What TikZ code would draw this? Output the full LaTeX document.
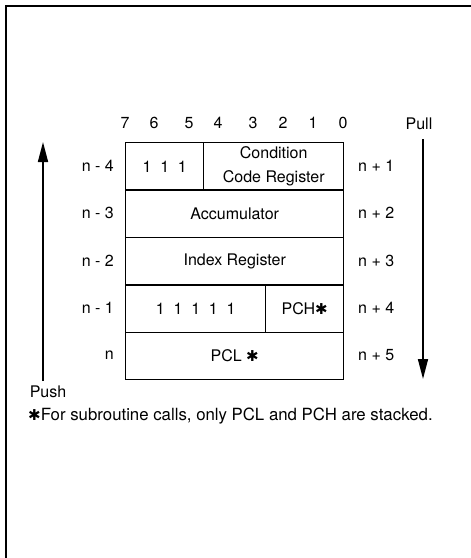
\documentclass[tikz,border=0pt]{standalone}
\usepackage{fontspec}
\setmainfont{TeX Gyre Heros}
\newfontfamily\symfont{DejaVu Sans}
\usetikzlibrary{arrows.meta}
\newcommand{\hast}{{\symfont\fontsize{15}{15}\selectfont ✱}}
\begin{document}
\begin{tikzpicture}[x=1pt,y=-1pt,
  font=\fontsize{16}{20}\selectfont,
  frameline/.style={line width=2pt},
  cell/.style={draw, line width=1.4pt, minimum height=47.4pt, inner sep=0pt, anchor=north west, align=center},
  lbl/.style={inner sep=0pt},
  arr/.style={line width=1.6pt, -{Triangle[length=20pt,width=10pt]}}]
\useasboundingbox (0,0) rectangle (471,558);
% frame
\coordinate (fbl) at (6,558);
\coordinate (ftl) at (6,6);
\coordinate (ftr) at (471,6);
\draw[frameline] (fbl) -- (ftl) -- (ftr);
% bit numbers
\foreach \x/\d in {125/7,154/6,189/5,218/4,253/3,283/2,313/1,343/0}
  \node[lbl] (b\d) at (\x,123) {\d};
% cells
\node[cell, minimum width=78pt]  (ones3) at (125,142) {1\hspace{0.55em}1\hspace{0.55em}1};
\node[cell, minimum width=140pt, font=\fontsize{16}{24}\selectfont] (ccr) at (203,142) {Condition\\Code Register};
\node[cell, minimum width=218pt] (acc)   at (125,189.4) {Accumulator};
\node[cell, minimum width=218pt] (idx)   at (125,236.8) {Index Register};
\node[cell, minimum width=140pt] (ones5) at (125,284.2) {1\hspace{0.55em}1\hspace{0.55em}1\hspace{0.55em}1\hspace{0.55em}1};
\node[cell, minimum width=78pt]  (pch)   at (265,284.2) {PCH\hast};
\node[cell, minimum width=218pt] (pcl)   at (125,331.6) {PCL \hast};
% left labels
\node[lbl, anchor=east] (l4) at (114,165.7) {n - 4};
\node[lbl, anchor=east] (l3) at (114,213.1) {n - 3};
\node[lbl, anchor=east] (l2) at (114,260.5) {n - 2};
\node[lbl, anchor=east] (l1) at (114,307.9) {n - 1};
\node[lbl, anchor=east] (l0) at (114,355.3) {n};
% right labels
\node[lbl, anchor=west] (r1) at (358,165.7) {n + 1};
\node[lbl, anchor=west] (r2) at (358,213.1) {n + 2};
\node[lbl, anchor=west] (r3) at (358,260.5) {n + 3};
\node[lbl, anchor=west] (r4) at (358,307.9) {n + 4};
\node[lbl, anchor=west] (r5) at (358,355.3) {n + 5};
% push / pull
\node[lbl] (push) at (48,392) {Push};
\coordinate (pushtop) at (43,142);
\coordinate (pushbot) at (43,381);
\draw[arr] (pushbot) -- (pushtop);
\node[lbl] (pull) at (419,124) {Pull};
\coordinate (pulltop) at (423,139);
\coordinate (pullbot) at (423,379);
\draw[arr] (pulltop) -- (pullbot);
% footnote
\node[lbl, anchor=west, font=\fontsize{16.8}{20}\selectfont] (note) at (28,416) {\hast For subroutine calls, only PCL and PCH are stacked.};
\end{tikzpicture}
\end{document}
